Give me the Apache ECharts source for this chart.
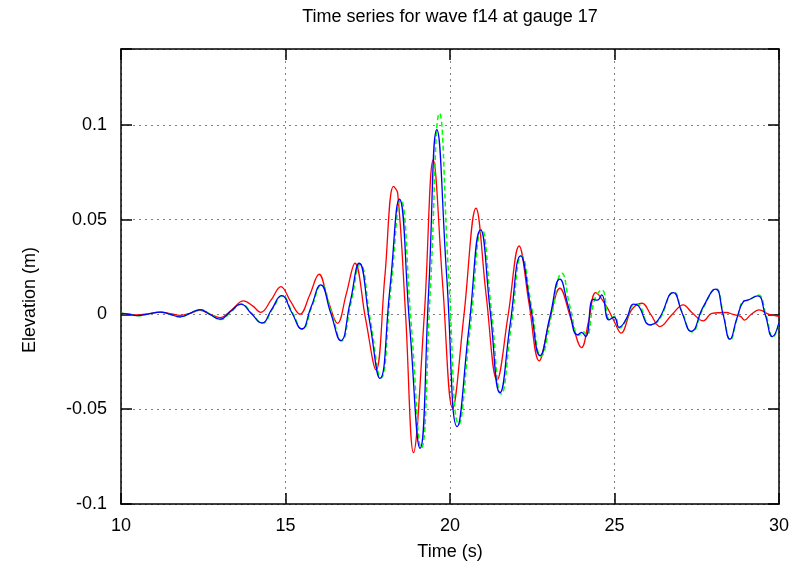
<!DOCTYPE html>
<html><head><meta charset="utf-8">
<script src="https://cdn.jsdelivr.net/npm/echarts@6/dist/echarts.min.js"></script>
<style>html,body{margin:0;padding:0;background:#fff}#c{width:797px;height:568px}</style>
</head><body><div id="c"></div>
<script>
const chartTitle = 'Time series for wave f14 at gauge 17';
const xAxisTitle = 'Time (s)';
const yAxisTitle = 'Elevation (m)';
const xTicks = [10, 15, 20, 25, 30];
const yTicks = [-0.1, -0.05, 0, 0.05, 0.1];

const redSeries = [
[10.0,0.0006],[10.2,0.0003],[10.48,-0.0003],[10.85,0.0004],[11.19,0.0012],[11.5,0.0004],[11.79,-0.0005],
[12.1,0.0006],[12.40,0.0021],[12.7,0.0002],[13.01,-0.0017],[13.37,0.0025],[13.72,0.0071],[14.0,0.0045],
[14.25,0.0011],[14.56,0.0075],[14.86,0.0147],[15.15,0.007],[15.44,0.0001],[15.73,0.01],[16.02,0.0212],
[16.3,0.007],[16.58,-0.0047],[16.85,0.011],[17.11,0.027],[17.43,-0.002],[17.75,-0.0293],[18.02,0.02],
[18.28,0.0675],[18.41,0.064],[18.65,0.0],[18.89,-0.0729],[19.22,0.0],[19.49,0.0815],[19.78,0.015],
[20.08,-0.0495],[20.42,-0.001],[20.79,0.056],[21.1,0.01],[21.43,-0.0345],[21.77,0.0],[22.10,0.0361],
[22.4,0.006],[22.71,-0.0245],[23.03,-0.003],[23.34,0.0138],[23.67,-0.002],[24.0,-0.0175],[24.22,-0.003],
[24.43,0.0115],[24.76,0.0041],[25.0,-0.004],[25.20,-0.0099],[25.52,0.0024],[25.84,0.0059],[26.1,0.0],
[26.38,-0.0064],[26.75,0.0],[27.09,0.005],[27.35,0.001],[27.70,-0.0034],[27.96,0.0006],[28.4,0.001],
[28.6,0.0],[28.83,-0.001],[28.95,-0.003],[29.15,0.0],[29.39,0.0024],[29.7,0.0],[30.0,-0.001]
];

const greenSeries = [
[10.0,0.0006],[10.2,0.0002],[10.5,-0.0007],[10.85,0.0003],[11.2,0.0012],[11.5,0.0],[11.8,-0.0014],
[12.1,0.0006],[12.42,0.0025],[12.72,0.0],[13.03,-0.0027],[13.35,0.0015],[13.66,0.0053],[13.98,0.0004],
[14.3,-0.0047],[14.6,0.0027],[14.9,0.0098],[15.21,0.001],[15.51,-0.0078],[15.8,0.004],[16.09,0.0155],
[16.4,0.001],[16.7,-0.014],[16.99,0.006],[17.27,0.0265],[17.58,-0.003],[17.9,-0.0335],[18.2,0.013],
[18.5,0.0605],[18.82,-0.005],[19.13,-0.0705],[19.4,0.012],[19.68,0.106],[19.96,0.02],[20.27,-0.058],
[20.61,-0.008],[20.97,0.0448],[21.26,0.002],[21.56,-0.042],[21.87,-0.005],[22.18,0.031],[22.48,0.004],
[22.77,-0.022],[23.08,-0.001],[23.4,0.0217],[23.65,0.004],[23.92,-0.011],[24.05,-0.009],[24.15,-0.011],
[24.4,0.008],[24.62,0.0129],[24.85,-0.0025],[25.0,-0.001],[25.16,-0.0072],[25.38,-0.002],[25.58,0.0052],
[25.68,0.0055],[26.1,-0.0057],[26.35,-0.003],[26.8,0.0118],[27.06,0.001],[27.35,-0.0092],[27.72,0.0042],
[28.08,0.0137],[28.31,0.0],[28.52,-0.0135],[28.73,-0.002],[28.93,0.0072],[29.05,0.0075],[29.37,0.0102],
[29.6,0.0],[29.82,-0.012],[30.0,-0.004]
];

const blueSeries = [
[10.0,0.0006],[10.2,0.0002],[10.48,-0.0006],[10.85,0.0003],[11.19,0.0012],[11.5,0.0],[11.79,-0.0013],
[12.1,0.0006],[12.40,0.0025],[12.7,0.0],[13.01,-0.0025],[13.33,0.0015],[13.64,0.0054],[13.96,0.0005],
[14.28,-0.0045],[14.58,0.0027],[14.88,0.0099],[15.19,0.001],[15.49,-0.0077],[15.78,0.004],[16.07,0.0156],
[16.37,0.001],[16.68,-0.0138],[16.96,0.006],[17.24,0.027],[17.55,-0.003],[17.87,-0.0337],[18.17,0.013],
[18.46,0.0608],[18.77,-0.005],[19.09,-0.0706],[19.35,0.012],[19.60,0.0974],[19.9,0.02],[20.22,-0.0592],
[20.57,-0.008],[20.93,0.0446],[21.22,0.002],[21.52,-0.0413],[21.83,-0.005],[22.15,0.0309],[22.45,0.004],
[22.74,-0.0217],[23.04,-0.001],[23.34,0.0186],[23.6,0.004],[23.88,-0.0108],[24.0,-0.0095],[24.12,-0.0117],
[24.35,0.008],[24.48,0.0075],[24.61,0.0103],[24.83,-0.0029],[24.99,-0.0015],[25.14,-0.0068],[25.37,-0.002],
[25.57,0.0054],[25.67,0.0052],[26.08,-0.0055],[26.33,-0.0029],[26.79,0.0115],[27.05,0.001],[27.33,-0.009],
[27.70,0.0041],[28.07,0.0133],[28.3,0.0],[28.51,-0.0131],[28.72,-0.002],[28.92,0.0068],[29.05,0.0075],
[29.35,0.0098],[29.58,0.0],[29.80,-0.0117],[30.0,-0.0045]
];

const FONT = 'Liberation Sans, Arial, sans-serif';
const chart = echarts.init(document.getElementById('c'), null, {renderer: 'canvas'});
const isTick = (arr, v) => arr.some(t => Math.abs(t - v) < 1e-9);
const axisLineStyle = {color: '#000', width: 1.5};
const tickStyle = {inside: true, length: 11, lineStyle: {color: '#000', width: 1.5}};
const gridLineStyle = {color: '#808080', width: 1, type: [2, 4]};

chart.setOption({
  animation: false,
  backgroundColor: '#fff',
  grid: {left: 121, right: 18, top: 49, bottom: 64, containLabel: false},
  xAxis: [
    {type: 'value', min: 10, max: 30, interval: 5, position: 'bottom',
     axisLine: {show: true, onZero: false, lineStyle: axisLineStyle},
     axisTick: tickStyle,
     axisLabel: {margin: 13, color: '#000', fontSize: 18, fontFamily: FONT,
       formatter: v => isTick(xTicks, v) ? String(v) : ''},
     splitLine: {show: true, lineStyle: gridLineStyle}},
    {type: 'value', min: 10, max: 30, interval: 5, position: 'top',
     axisLine: {show: true, onZero: false, lineStyle: axisLineStyle},
     axisTick: tickStyle, axisLabel: {show: false}, splitLine: {show: false}}
  ],
  yAxis: [
    {type: 'value', min: -0.1, max: 0.14, interval: 0.05, position: 'left',
     axisLine: {show: true, onZero: false, lineStyle: axisLineStyle},
     axisTick: tickStyle,
     axisLabel: {margin: 14, color: '#000', fontSize: 18, fontFamily: FONT,
       formatter: v => isTick(yTicks, v) ? String(v) : ''},
     splitLine: {show: true, lineStyle: gridLineStyle}},
    {type: 'value', min: -0.1, max: 0.14, interval: 0.05, position: 'right',
     axisLine: {show: true, onZero: false, lineStyle: axisLineStyle},
     axisTick: tickStyle, axisLabel: {show: false}, splitLine: {show: false}}
  ],
  graphic: [
    {type: 'text', x: 450, y: 17, style: {text: chartTitle, fill: '#000', font: '18px ' + FONT, align: 'center', verticalAlign: 'middle'}},
    {type: 'text', x: 450, y: 552, style: {text: xAxisTitle, fill: '#000', font: '18px ' + FONT, align: 'center', verticalAlign: 'middle'}},
    {type: 'text', x: 30, y: 300, rotation: Math.PI / 2, style: {text: yAxisTitle, fill: '#000', font: '18px ' + FONT, align: 'center', verticalAlign: 'middle'}}
  ],
  series: [
    {type: 'line', data: redSeries, xAxisIndex: 0, yAxisIndex: 0, showSymbol: false, smooth: 0.4,
     lineStyle: {color: '#ff0000', width: 1.3}, z: 3},
    {type: 'line', data: greenSeries, xAxisIndex: 0, yAxisIndex: 0, showSymbol: false, smooth: 0.5,
     lineStyle: {color: '#00ff00', width: 1.5, type: [5, 3]}, z: 4},
    {type: 'line', data: blueSeries, xAxisIndex: 0, yAxisIndex: 0, showSymbol: false, smooth: 0.5,
     lineStyle: {color: '#0000ff', width: 1.3}, z: 5}
  ]
});
</script>
</body></html>
